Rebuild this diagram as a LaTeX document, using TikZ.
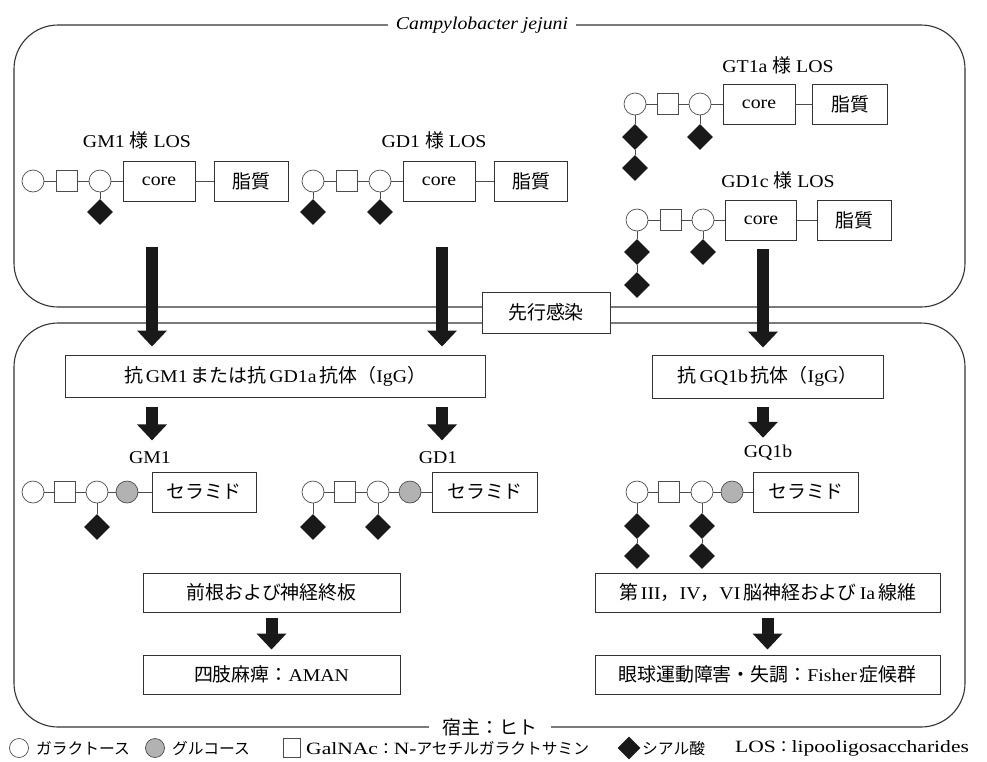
\documentclass[tikz,border=0pt]{standalone}
\usepackage{fontspec}
\setmainfont[FakeStretch=1.1]{Liberation Serif}
\newfontfamily\jp[Scale=1.05]{Noto Sans CJK JP}
\newfontfamily\keylatin[Scale=1.15,FakeStretch=1.25]{Liberation Serif}
\usetikzlibrary{arrows.meta,shapes.geometric}

\tikzset{
  gal/.style={circle,draw=black!70,line width=.7pt,minimum size=22pt,inner sep=0pt},
  glc/.style={gal,fill=black!30},
  nac/.style={rectangle,draw=black!70,line width=.7pt,minimum size=21pt,inner sep=0pt},
  sia/.style={diamond,fill=black!90,minimum size=26pt,inner sep=0pt},
  lnk/.style={draw=black!70,line width=.7pt},
  box/.style={draw=black!80,line width=.9pt,minimum height=40pt,inner sep=0pt},
  fat/.style={draw=black!90,line width=12pt,-{Triangle[width=29pt,length=16pt]}},
  frame/.style={draw=black!80,line width=1.1pt,rounded corners=44pt},
  key/.style={font=\fontsize{15}{18}\selectfont,anchor=west,inner sep=0pt}
}

\begin{document}
\begin{tikzpicture}[x=1pt,y=-1pt,font=\fontsize{18}{21}\selectfont]
  \useasboundingbox (0,0) rectangle (987,761);
  \draw[frame] (14,25) rectangle (965,307);
  \draw[frame] (14,323) rectangle (965,727);
  \node[fill=white,inner xsep=8pt,font=\fontsize{18}{21}\selectfont\itshape] (cj) at (482,25) {Campylobacter jejuni};
  \node[fill=white,inner xsep=14pt] (host) at (490,727) {\jp 宿主：ヒト};
  \node[box,fill=white,minimum width=128pt,minimum height=41pt] (inf) at (546,312.5) {\jp 先行感染};

  \node (gmlos) at (137,140) {GM1 {\jp 様} LOS};
  \node[gal] (gm1) at (33,181) {};
  \node[nac] (gm2) at (67,181) {};
  \node[gal] (gm3) at (100,181) {};
  \node[box,minimum width=72pt] (gmcore) at (159,181) {core};
  \node[box,minimum width=74pt] (gmlip) at (251,181) {\jp 脂質};
  \node[sia] (gms1) at (100,212) {};
  \draw[lnk] (gm1)--(gm2)--(gm3)--(gmcore)--(gmlip) (gm3)--(gms1);

  \node (gdlos) at (434,140) {GD1 {\jp 様} LOS};
  \node[gal] (gd1) at (313,181) {};
  \node[nac] (gd2) at (347,181) {};
  \node[gal] (gd3) at (380,181) {};
  \node[box,minimum width=72pt] (gdcore) at (439,181) {core};
  \node[box,minimum width=73pt] (gdlip) at (531,181) {\jp 脂質};
  \node[sia] (gds1) at (313,212) {};
  \node[sia] (gds2) at (380,212) {};
  \draw[lnk] (gd1)--(gd2)--(gd3)--(gdcore)--(gdlip) (gd1)--(gds1) (gd3)--(gds2);

  \node (gtlos) at (778,65) {GT1a {\jp 様} LOS};
  \node[gal] (gt1) at (635,104) {};
  \node[nac] (gt2) at (668,104) {};
  \node[gal] (gt3) at (700,104) {};
  \node[box,minimum width=72pt] (gtcore) at (759,104) {core};
  \node[box,minimum width=75pt] (gtlip) at (850,104) {\jp 脂質};
  \node[sia] (gts1) at (635,137) {};
  \node[sia] (gts2) at (635,168) {};
  \node[sia] (gts3) at (700,137) {};
  \draw[lnk] (gt1)--(gt2)--(gt3)--(gtcore)--(gtlip) (gt1)--(gts1)--(gts2) (gt3)--(gts3);

  \node (gclos) at (778,180) {GD1c {\jp 様} LOS};
  \node[gal] (gc1) at (637,220) {};
  \node[nac] (gc2) at (671,220) {};
  \node[gal] (gc3) at (703,220) {};
  \node[box,minimum width=71pt] (gccore) at (761,220) {core};
  \node[box,minimum width=74pt] (gclip) at (854,220) {\jp 脂質};
  \node[sia] (gcs1) at (637,252) {};
  \node[sia] (gcs2) at (637,285) {};
  \node[sia] (gcs3) at (703,252) {};
  \draw[lnk] (gc1)--(gc2)--(gc3)--(gccore)--(gclip) (gc1)--(gcs1)--(gcs2) (gc3)--(gcs3);

  \node[box,minimum width=420pt,minimum height=42pt] (ab1) at (275,376)
    {{\jp 抗}\,GM1\,{\jp または抗}\,GD1a\,{\jp 抗体（}IgG{\jp ）}};
  \node[box,minimum width=231pt,minimum height=43pt] (ab2) at (767.5,376.5)
    {{\jp 抗}\,GQ1b\,{\jp 抗体（}IgG{\jp ）}};
  \coordinate (s1) at (152,247);
  \coordinate (s2) at (442,247);
  \coordinate (s3) at (763,249);
  \draw[fat,shorten >=8pt] (s1) -- (s1 |- ab1.north);
  \draw[fat,shorten >=8pt] (s2) -- (s2 |- ab1.north);
  \draw[fat,shorten >=7pt] (s3) -- (s3 |- ab2.north);

  \node (lgm) at (150,458) {GM1};
  \node (lgd) at (438,458) {GD1};
  \node (lgq) at (768,453) {GQ1b};
  \draw[fat,shorten <=10pt,shorten >=8pt] (s1 |- ab1.south) -- (s1 |- lgm.north);
  \draw[fat,shorten <=10pt,shorten >=8pt] (s2 |- ab1.south) -- (s2 |- lgd.north);
  \draw[fat,shorten <=9pt,shorten >=4pt] (s3 |- ab2.south) -- (s3 |- lgq.north);

  \node[gal] (m1) at (33,492) {};
  \node[nac] (m2) at (65,492) {};
  \node[gal] (m3) at (97,492) {};
  \node[glc] (m4) at (127,492) {};
  \node[box,minimum width=104pt] (mcer) at (204,492) {\jp セラミド};
  \node[sia] (ms1) at (97,527) {};
  \draw[lnk] (m1)--(m2)--(m3)--(m4)--(mcer) (m3)--(ms1);

  \node[gal] (d1) at (313,492) {};
  \node[nac] (d2) at (345,492) {};
  \node[gal] (d3) at (378,492) {};
  \node[glc] (d4) at (410,492) {};
  \node[box,minimum width=105pt] (dcer) at (485,492) {\jp セラミド};
  \node[sia] (ds1) at (313,527) {};
  \node[sia] (ds2) at (378,527) {};
  \draw[lnk] (d1)--(d2)--(d3)--(d4)--(dcer) (d1)--(ds1) (d3)--(ds2);

  \node[gal] (q1) at (637,492) {};
  \node[nac] (q2) at (669,492) {};
  \node[gal] (q3) at (702,492) {};
  \node[glc] (q4) at (732,492) {};
  \node[box,minimum width=105pt] (qcer) at (806,492) {\jp セラミド};
  \node[sia] (qs1) at (637,526) {};
  \node[sia] (qs2) at (637,556) {};
  \node[sia] (qs3) at (702,526) {};
  \node[sia] (qs4) at (702,556) {};
  \draw[lnk] (q1)--(q2)--(q3)--(q4)--(qcer) (q1)--(qs1)--(qs2) (q3)--(qs3)--(qs4);

  \node[box,minimum width=257pt,minimum height=39pt] (root) at (271.5,592.5) {\jp 前根および神経終板};
  \node[box,minimum width=257pt,minimum height=39pt] (aman) at (271.5,674.5) {{\jp 四肢麻痺：}AMAN};
  \draw[fat,shorten <=6pt,shorten >=5pt] (root) -- (aman);
  \node[box,minimum width=345pt,minimum height=39pt] (nerve) at (767.5,592.5)
    {{\jp 第}\,III{\jp ，}IV{\jp ，}VI\,{\jp 脳神経および}\,Ia\,{\jp 線維}};
  \node[box,minimum width=345pt,minimum height=39pt] (fisher) at (767.5,674.5)
    {{\jp 眼球運動障害・失調：}Fisher\,{\jp 症候群}};
  \draw[fat,shorten <=6pt,shorten >=5pt] (nerve) -- (fisher);

  \node[gal,minimum size=19pt] (kgal) at (19,748) {};
  \node[key] (tgal) at (36,748) {\jp ガラクトース};
  \node[glc,minimum size=19pt] (kglc) at (155,748) {};
  \node[key] (tglc) at (172,748) {\jp グルコース};
  \node[nac,minimum width=17pt,minimum height=19pt] (knac) at (292,748) {};
  \node[key] (tnac) at (306,748) {{\keylatin GalNAc}{\jp ：}{\keylatin N-}{\jp アセチルガラクトサミン}};
  \node[sia,minimum size=23pt] (ksia) at (629,748) {};
  \node[key] (tsia) at (642,748) {\jp シアル酸};
  \node[key] (tlos) at (735,748) {{\keylatin LOS}{\jp ：}{\keylatin lipooligosaccharides}};
\end{tikzpicture}
\end{document}
